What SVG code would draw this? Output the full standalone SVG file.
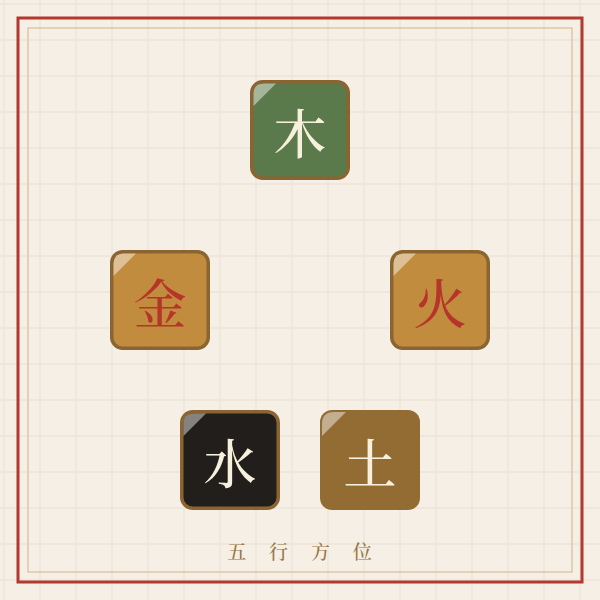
<svg xmlns="http://www.w3.org/2000/svg" width="600" height="600" viewBox="0 0 600 600">
  <defs>
    <pattern id="grid" x="-14" y="-14" width="36" height="36" patternUnits="userSpaceOnUse">
      <path d="M18,0 V36 M0,18 H36" fill="none" stroke="#ede5d8" stroke-width="1.4"/>
    </pattern>
  </defs>
  <style>
    .tile { stroke: #8b6531; stroke-width: 3.5; }
    .gloss { fill: #ffffff; fill-opacity: 0.45; }
    .glyph { font-family: "Noto Serif CJK SC", "Noto Sans CJK SC", serif; font-size: 53px; font-weight: 500; text-anchor: middle; dominant-baseline: central; }
    .light { fill: #f6f0dc; }
    .red { fill: #b7342a; }
    .caption { font-family: "Noto Serif CJK SC", "Noto Sans CJK SC", serif; font-size: 19px; font-weight: 500; fill: #9a7643; text-anchor: middle; letter-spacing: 9px; }
  </style>

  <rect x="0" y="0" width="600" height="600" fill="#f5efe6"/>
  <rect x="0" y="0" width="600" height="600" fill="url(#grid)"/>
  <rect x="18" y="18" width="564" height="564" fill="none" stroke="#b3392e" stroke-width="3"/>
  <rect x="28" y="28" width="544" height="544" fill="none" stroke="#dcc8a4" stroke-width="1.5"/>

  <g id="connectors"></g>

  <g id="node-mu" transform="translate(250,80)">
    <rect class="tile" x="1.75" y="1.75" width="96.5" height="96.5" rx="11" ry="11" fill="#5b7a4b"/>
    <path class="gloss" d="M3.5,14 Q3.5,3.5 14,3.5 L26,3.5 L3.5,26 Z"/>
    <text class="glyph light" x="50" y="51">木</text>
  </g>

  <g id="node-jin" transform="translate(110,250)">
    <rect class="tile" x="1.75" y="1.75" width="96.5" height="96.5" rx="11" ry="11" fill="#c28c3e"/>
    <path class="gloss" d="M3.5,14 Q3.5,3.5 14,3.5 L26,3.5 L3.5,26 Z"/>
    <text class="glyph red" x="50" y="51">金</text>
  </g>

  <g id="node-huo" transform="translate(390,250)">
    <rect class="tile" x="1.75" y="1.75" width="96.5" height="96.5" rx="11" ry="11" fill="#c28c3e"/>
    <path class="gloss" d="M3.5,14 Q3.5,3.5 14,3.5 L26,3.5 L3.5,26 Z"/>
    <text class="glyph red" x="50" y="51">火</text>
  </g>

  <g id="node-shui" transform="translate(180,410)">
    <rect class="tile" x="1.75" y="1.75" width="96.5" height="96.5" rx="11" ry="11" fill="#221e1c"/>
    <path class="gloss" d="M3.5,14 Q3.5,3.5 14,3.5 L26,3.5 L3.5,26 Z"/>
    <text class="glyph light" x="50" y="51">水</text>
  </g>

  <g id="node-tu" transform="translate(320,410)">
    <rect x="0" y="0" width="100" height="100" rx="12" ry="12" fill="#936c33"/>
    <path class="gloss" d="M2,14 Q2,2 14,2 L26,2 L2,26 Z"/>
    <text class="glyph light" x="50" y="51">土</text>
  </g>

  <text id="caption" class="caption" x="304" y="559">五 行 方 位</text>
</svg>
